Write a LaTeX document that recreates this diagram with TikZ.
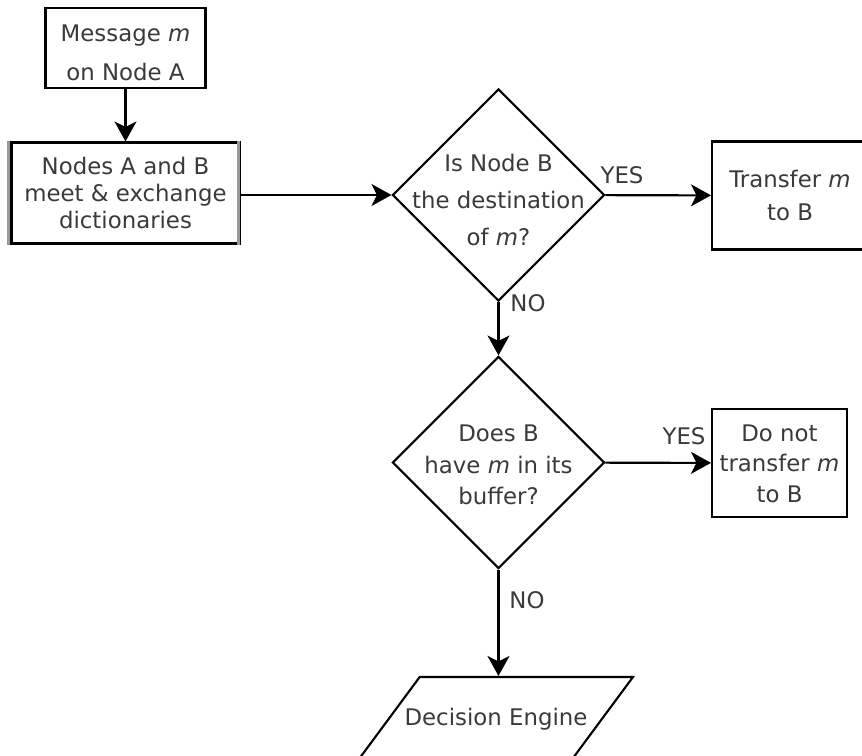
\documentclass[tikz,border=0pt]{standalone}
\usepackage{fontspec}
\setmainfont{DejaVu Sans}
\usetikzlibrary{arrows.meta,shapes.geometric}
\definecolor{ink}{HTML}{3A3A3A}

% text that does not widen the shape round it
\newcommand{\inbox}[2][-.3em]{\smash{\makebox[0pt]{\raisebox{#1}{\begin{tabular}{@{}c@{}}#2\end{tabular}}}}}

\begin{document}
\begin{tikzpicture}[x=0.02cm,y=-0.02cm,line width=1.2pt,
>={Stealth[length=0.4cm,width=0.44cm,inset=0.11cm]},
txt/.style={font=\fontsize{13}{#1}\selectfont,text=ink},
box/.style={draw,align=center,inner sep=0pt},
decide/.style={diamond,draw,inner sep=0pt,minimum width=4.24cm,minimum height=4.24cm},
lbl/.style={font=\fontsize{13}{15}\selectfont,text=ink,inner sep=0pt}]
  \path[use as bounding box,fill=white] (0,0) rectangle (862,756);
  \node[box,txt=22,minimum width=3.2cm,minimum height=1.6cm] (msg) at (125.5,48) {\inbox[-.45em]{Message \textit{m}\\on Node A}};
  \node[box,txt=15.5,minimum width=4.56cm,minimum height=2.02cm] (meet) at (125.5,193) {Nodes A and B\\meet \& exchange\\dictionaries};
  \node[decide,txt=21] (dest) at (498.5,195) {\inbox[-.5em]{Is Node B\\the destination\\of \textit{m}?}};
  \node[box,txt=18.5,minimum width=3.12cm,minimum height=2.16cm] (transfer) at (790,195.5) {Transfer \textit{m}\\to B};
  \node[decide,txt=18] (buffer) at (498.5,462.5) {\inbox[-.42em]{Does B\\have \textit{m} in its\\buffer?}};
  \node[box,txt=17.5,minimum width=2.7cm,minimum height=2.16cm] (keep) at (779.5,463) {\inbox[-.35em]{Do not\\transfer \textit{m}\\to B}};
  \node[trapezium,trapezium left angle=53.5,trapezium right angle=126.5,trapezium stretches body,draw,
    inner xsep=0pt,inner ysep=0.82cm,minimum width=5.48cm,txt=15] (engine) at (496,718) {\inbox[-.35em]{Decision Engine}};
  \draw[black!40,line width=1.4pt] ([xshift=-0.04cm]meet.north west) -- ([xshift=-0.04cm]meet.south west);
  \draw[black!40,line width=1.4pt] ([xshift=-0.04cm]meet.north east) -- ([xshift=-0.04cm]meet.south east);
  \node[lbl] (yes1) at (622,175) {YES};
  \node[lbl] (no1) at (528,303) {NO};
  \node[lbl] (yes2) at (684,436) {YES};
  \node[lbl] (no2) at (527,600) {NO};
  \draw[->] (msg) -- (meet);
  \draw[->] (meet.east |- dest.west) -- (dest.west);
  \draw[->] (dest) -- (transfer);
  \draw[->] (dest) -- (buffer);
  \draw[->] (buffer) -- (keep);
  \draw[->] (buffer.south) -- (buffer.south |- engine.north);
\end{tikzpicture}
\end{document}
